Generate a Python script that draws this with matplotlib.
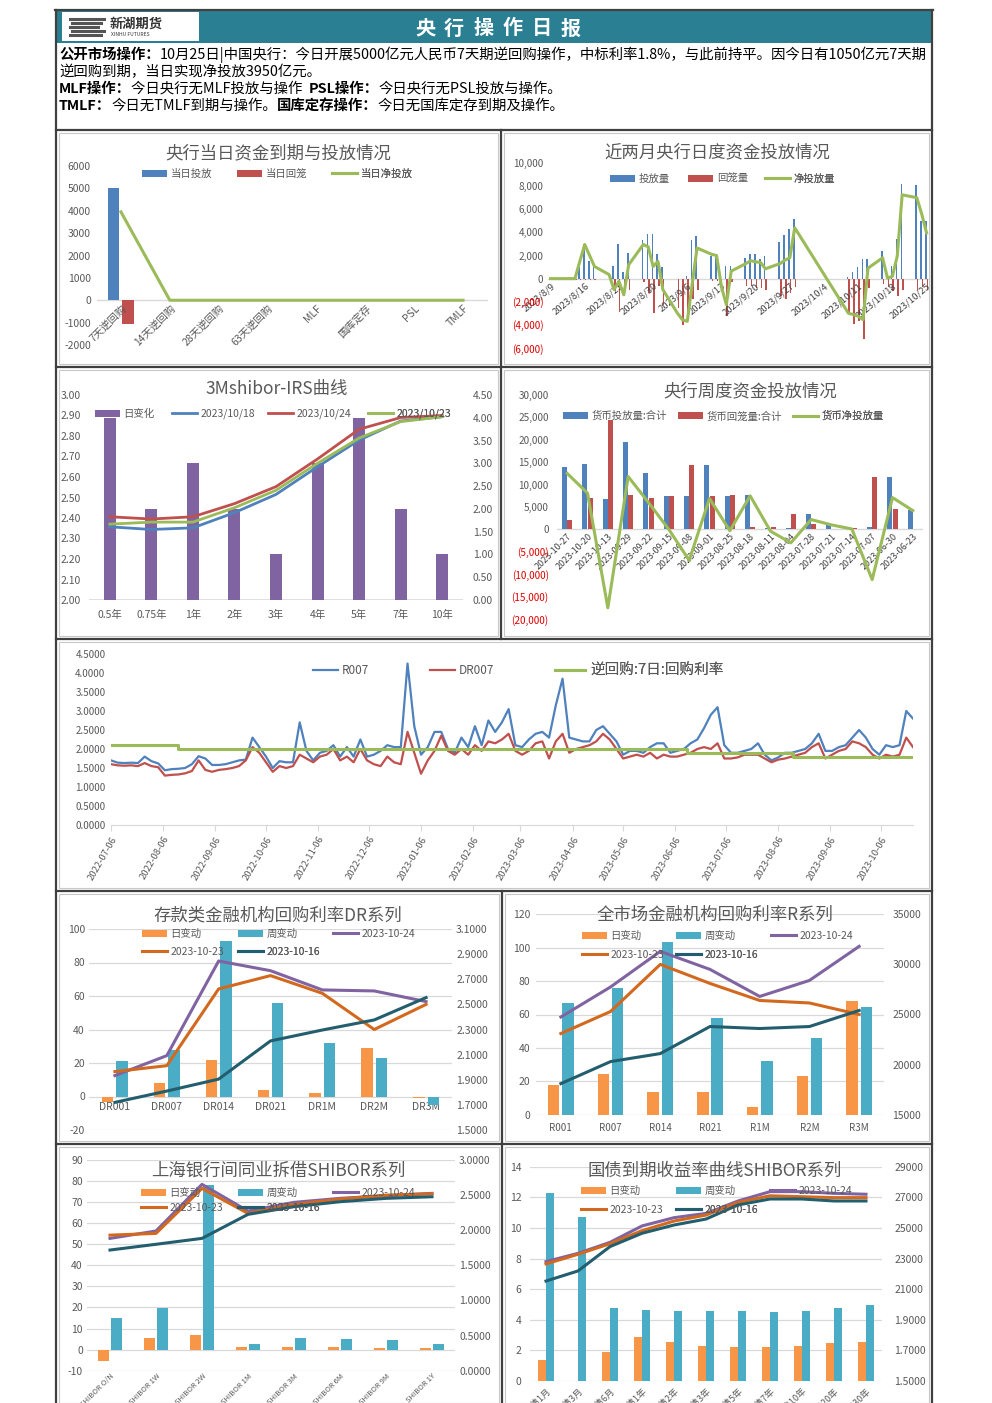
import matplotlib
matplotlib.use('Agg')
import matplotlib.pyplot as plt
import matplotlib.ticker as mticker
import matplotlib.dates as mdates
from matplotlib.patches import Rectangle
from matplotlib.lines import Line2D
import numpy as np
import pandas as pd

plt.rcParams['font.family'] = ['Noto Sans CJK SC', 'DejaVu Sans']
plt.rcParams['axes.unicode_minus'] = False

# ---------------- data ----------------
# chart 1: 央行当日资金到期与投放情况
c1_categories = ['7天逆回购', '14天逆回购', '28天逆回购', '63天逆回购', 'MLF', '国库定存', 'PSL', 'TMLF']
c1_inject = [5000, 0, 0, 0, 0, 0, 0, 0]
c1_recover = [-1050, 0, 0, 0, 0, 0, 0, 0]
c1_net = [3950, 0, 0, 0, 0, 0, 0, 0]

# chart 2: 近两月央行日度资金投放情况
c2_dates = ['2023-08-09', '2023-08-10', '2023-08-11', '2023-08-14', '2023-08-15', '2023-08-16', '2023-08-17',
            '2023-08-18', '2023-08-21', '2023-08-22', '2023-08-23', '2023-08-24', '2023-08-25', '2023-08-28',
            '2023-08-29', '2023-08-30', '2023-08-31', '2023-09-01', '2023-09-04', '2023-09-05', '2023-09-06',
            '2023-09-07', '2023-09-08', '2023-09-11', '2023-09-12', '2023-09-13', '2023-09-14', '2023-09-15',
            '2023-09-18', '2023-09-19', '2023-09-20', '2023-09-21', '2023-09-22', '2023-09-25', '2023-09-26',
            '2023-09-27', '2023-09-28', '2023-10-09', '2023-10-10', '2023-10-11', '2023-10-12', '2023-10-13',
            '2023-10-16', '2023-10-17', '2023-10-18', '2023-10-19', '2023-10-20', '2023-10-23', '2023-10-24',
            '2023-10-25']
c2_inject = [0, 0, 0, 0, 1000, 3000, 1500, 1000, 0, 1100, 3000, 600, 2200, 3300, 3900, 3900, 2100, 1000,
             0, 0, 200, 3300, 3700, 2000, 1900, 0, 1100, 1100, 1800, 2100, 2100, 1700, 2000, 3200, 3800,
             4300, 5200, 100, 600, 1000, 1700, 1700, 2400, 0, 1100, 3400, 8200, 8100, 5000, 5000]
c2_recover = [0, 0, 0, -100, -100, -100, -100, -100, 0, -1000, -2900, -1500, -1000, -300, -1200, -3000, -600,
              -2300, -2500, -4000, -3500, -1800, -1000, -200, -200, 0, -3200, -300, -600, -600, -800, -800,
              -1000, -1500, -1800, -1200, -700, -3000, -3900, -3700, -5200, -800, -500, -700, -1100, -1500,
              -1000, -1000, -700, -1000]
c2_net = [0, 0, 0, 0, 1500, 2950, 2000, 1050, 350, -950, -230, -1400, 1200, 2950, 2750, 1050, 1500, -950,
          -3000, -3550, -3700, -500, 2650, 2100, 2000, -700, -2250, 650, 1300, 1550, 1450, 1400, 850, 1300,
          1600, 1800, 4400, -3000, -3100, -3250, -3550, 900, 1800, 50, 200, 1950, 7250, 7000, 5600, 3950]

# chart 3: 3Mshibor-IRS曲线
irs_tenors = ['0.5年', '0.75年', '1年', '2年', '3年', '4年', '5年', '7年', '10年']
irs_change = [4, 2, 3, 2, 1, 3, 4, 2, 1]
irs_1018 = [2.357, 2.344, 2.352, 2.426, 2.515, 2.650, 2.780, 2.873, 2.894]
irs_1024 = [2.406, 2.395, 2.406, 2.470, 2.553, 2.688, 2.833, 2.890, 2.900]
irs_1023 = [2.370, 2.380, 2.380, 2.450, 2.535, 2.667, 2.790, 2.870, 2.894]

# chart 4: 央行周度资金投放情况
week_labels = ['2023-10-27', '2023-10-20', '2023-10-13', '2023-09-29', '2023-09-22', '2023-09-15', '2023-09-08',
               '2023-09-01', '2023-08-25', '2023-08-18', '2023-08-11', '2023-08-04', '2023-07-28', '2023-07-21',
               '2023-07-14', '2023-07-07', '2023-06-30', '2023-06-23']
week_inject = [13900, 14500, 6800, 19500, 12600, 7400, 7400, 14300, 7400, 7700, 400, 400, 3400, 1000, 300, 500,
               11700, 4400]
week_recover = [2100, 6900, 24400, 7700, 7100, 7400, 14300, 7400, 7700, 600, 500, 3400, 1200, 0, 400, 11700,
                4600, 0]
week_net = [12500, 8100, -17500, 11800, 6000, 0, -6900, 6900, -300, 7500, -400, -3000, 2200, 1000, 100, -11200,
            7100, 4200]

# chart 5: R007 / DR007 / 逆回购7日 (sampled every 4 days from 2022-07-06)
rate_start = '2022-07-06'
R007 = [1.70, 1.64, 1.63, 1.64, 1.63, 1.80, 1.68, 1.62, 1.44, 1.47,
        1.48, 1.50, 1.60, 1.81, 1.75, 1.58, 1.58, 1.60, 1.65, 1.70,
        1.72, 2.30, 2.05, 1.80, 1.50, 1.68, 1.65, 1.65, 2.70, 1.95,
        1.70, 1.90, 1.95, 2.10, 1.80, 2.05, 1.80, 2.25, 1.80, 1.85,
        1.95, 2.10, 2.05, 2.05, 4.25, 2.60, 1.85, 2.05, 2.45, 2.45,
        2.00, 1.90, 2.30, 2.05, 2.60, 2.10, 2.75, 2.45, 2.70, 3.05,
        2.10, 2.05, 2.25, 2.40, 2.45, 2.30, 3.15, 3.85, 2.30, 2.25,
        2.20, 2.20, 2.50, 2.60, 2.40, 2.20, 1.85, 1.95, 1.95, 1.90,
        2.05, 2.15, 2.15, 1.90, 1.95, 2.00, 2.15, 2.25, 2.55, 2.90,
        3.10, 2.10, 1.90, 1.90, 1.95, 2.00, 2.15, 1.85, 1.70, 1.78,
        1.90, 1.90, 1.95, 2.00, 2.15, 2.40, 1.95, 1.95, 2.05, 2.10,
        2.30, 2.50, 2.30, 2.00, 1.85, 2.10, 2.05, 2.10, 3.00, 2.80]
DR007 = [1.60, 1.57, 1.56, 1.57, 1.55, 1.63, 1.55, 1.52, 1.30, 1.32,
         1.33, 1.36, 1.42, 1.70, 1.45, 1.40, 1.45, 1.47, 1.50, 1.55,
         1.70, 2.05, 1.90, 1.65, 1.40, 1.55, 1.50, 1.55, 1.85, 1.75,
         1.65, 1.80, 1.85, 2.00, 1.70, 1.80, 1.65, 2.00, 1.70, 1.60,
         1.55, 1.80, 1.65, 1.60, 2.45, 1.90, 1.35, 1.70, 1.95, 2.35,
         1.95, 1.85, 2.00, 1.85, 2.10, 1.95, 2.20, 2.15, 2.25, 2.40,
         1.95, 1.85, 1.95, 2.15, 2.20, 1.75, 2.20, 2.40, 1.90, 2.00,
         2.05, 2.10, 2.20, 2.40, 2.25, 2.00, 1.75, 1.80, 1.85, 1.80,
         1.90, 1.75, 1.85, 1.80, 1.80, 1.85, 1.90, 2.00, 2.05, 2.00,
         2.15, 1.75, 1.75, 1.78, 1.85, 1.85, 1.85, 1.75, 1.65, 1.72,
         1.75, 1.80, 1.85, 1.90, 2.05, 2.15, 1.75, 1.85, 1.95, 2.00,
         2.20, 2.15, 2.05, 1.85, 1.75, 1.85, 1.80, 1.85, 2.30, 2.05]
rr_dates = ['2022-07-06', '2022-08-15', '2023-06-13', '2023-08-15', '2023-10-25']
rr_rate = [2.10, 2.00, 1.90, 1.80, 1.80]

# chart 6: DR series
dr_names = ['DR001', 'DR007', 'DR014', 'DR021', 'DR1M', 'DR2M', 'DR3M']
dr_day = [-3.5, 8, 22, 4, 2, 29, -1]
dr_week = [21, 28, 93, 56, 32, 23, -5]
dr_1024 = [1.933, 2.092, 2.845, 2.768, 2.615, 2.607, 2.522]
dr_1023 = [1.965, 2.012, 2.623, 2.729, 2.588, 2.300, 2.500]
dr_1016 = [1.720, 1.810, 1.905, 2.209, 2.296, 2.376, 2.554]

# chart 7: R series
r_names = ['R001', 'R007', 'R014', 'R021', 'R1M', 'R2M', 'R3M']
r_day = [17.6, 24.4, 13.6, 13.6, 4.4, 23.0, 67.9]
r_week = [67.0, 75.8, 103.4, 57.9, 31.9, 45.9, 64.3]
r_1024 = [2.475, 2.775, 3.130, 2.950, 2.680, 2.840, 3.180]
r_1023 = [2.310, 2.530, 3.000, 2.810, 2.640, 2.615, 2.500]
r_1016 = [1.810, 2.030, 2.110, 2.380, 2.360, 2.380, 2.540]
r_right_ticks = ['15000', '20000', '25000', '30000', '35000']

# chart 8: SHIBOR
sh_names = ['SHIBOR O/N', 'SHIBOR 1W', 'SHIBOR 2W', 'SHIBOR 1M', 'SHIBOR 3M', 'SHIBOR 6M', 'SHIBOR 9M', 'SHIBOR 1Y']
sh_day = [-5.5, 5.7, 7.1, 1.3, 1.3, 1.3, 0.8, 0.8]
sh_week = [15, 19.8, 78, 2.8, 5.5, 4.9, 4.4, 2.8]
sh_1024 = [1.884, 1.989, 2.653, 2.273, 2.397, 2.454, 2.490, 2.525]
sh_1023 = [1.930, 1.955, 2.596, 2.240, 2.368, 2.444, 2.500, 2.520]
sh_1016 = [1.718, 1.800, 1.884, 2.226, 2.335, 2.406, 2.454, 2.477]

# chart 9: 国债到期收益率
gz_names = ['国债1月', '国债3月', '国债6月', '国债1年', '国债2年', '国债3年', '国债5年', '国债7年', '国债10年', '国债20年', '国债30年']
gz_day = [1.4, 0, 1.9, 2.85, 2.55, 2.3, 2.2, 2.2, 2.3, 2.5, 2.55]
gz_week = [12.3, 10.7, 4.8, 4.65, 4.55, 4.55, 4.55, 4.5, 4.55, 4.8, 4.95]
gz_1024 = [2.280, 2.334, 2.406, 2.513, 2.567, 2.595, 2.676, 2.737, 2.737, 2.726, 2.720]
gz_1023 = [2.265, 2.328, 2.397, 2.482, 2.545, 2.584, 2.667, 2.710, 2.704, 2.698, 2.698]
gz_1016 = [2.153, 2.219, 2.378, 2.465, 2.519, 2.558, 2.650, 2.689, 2.689, 2.676, 2.676]
gz_right_ticks = ['1.5000', '1.7000', '1.9000', '21000', '23000', '25000', '27000', '29000']

# ---------------- style ----------------
BLUE = '#4F81BD'
RED = '#C0504D'
GREEN = '#9BBB59'
PURPLE = '#8064A2'
TEAL = '#4BACC6'
ORANGE = '#F79646'
DORANGE = '#D2691E'
DTEAL = '#235E6E'
GREY = '#595959'
GRID = '#D9D9D9'
HEAD = '#2B7F93'

W, H = 992, 1403
fig = plt.figure(figsize=(W / 100, H / 100), dpi=100)
fig.patch.set_facecolor('white')


def fx(x):
    return x / W


def fy(y):
    return 1 - y / H


def add_ax(x0, y0, x1, y1):
    ax = fig.add_axes([x0 / W, 1 - y1 / H, (x1 - x0) / W, (y1 - y0) / H])
    ax.set_facecolor('none')
    for s in ax.spines.values():
        s.set_visible(False)
    ax.tick_params(axis='both', length=0, labelsize=7.5, colors=GREY)
    return ax


def title(x, y, s, fs=12.5):
    fig.text(fx(x), fy(y), s, ha='center', va='center', fontsize=fs, color=GREY)


def leg(ax, handle, label, x, y, fs=7.5, hl_px=25):
    em = fs * 100 / 72
    lg = ax.legend([handle], [label], loc='center left', bbox_to_anchor=(fx(x), fy(y)),
                   bbox_transform=fig.transFigure, frameon=False, fontsize=fs,
                   handlelength=hl_px / em, handleheight=0.7, handletextpad=0.35,
                   borderpad=0, borderaxespad=0, labelcolor=GREY)
    ax.add_artist(lg)


def paren_fmt(v, pos):
    if v < 0:
        return '({:,.0f})'.format(abs(v))
    return '{:,.0f}'.format(v)


# ---------------- frames / header ----------------
def fline(x0, y0, x1, y1, color='#404040', lw=1.6):
    fig.add_artist(Line2D([fx(x0), fx(x1)], [fy(y0), fy(y1)], transform=fig.transFigure, color=color, lw=lw))


def frect(x0, y0, x1, y1, ec='#C8C8C8', fc='none', lw=0.8):
    fig.add_artist(Rectangle((fx(x0), fy(y1)), (x1 - x0) / W, (y1 - y0) / H, transform=fig.transFigure,
                             ec=ec, fc=fc, lw=lw))


frect(57, 11, 931, 43, ec='none', fc=HEAD)
frect(62, 12, 199, 41, ec='none', fc='white')
for i, yy in enumerate([19, 23, 27, 31, 35]):
    fline(70 + (i % 2) * 2, yy, 104 - (i % 3) * 3, yy, color='#555555', lw=2.2)
fig.text(fx(110), fy(24), '新湖期货', fontsize=9.5, fontweight='bold', color='#333333', va='center', ha='left')
fig.text(fx(111), fy(34.5), 'XINHU FUTURES', fontsize=3.6, color='#333333', va='center', ha='left')
for i, ch in enumerate('央行操作日报'):
    fig.text(fx(425 + 29.2 * i), fy(28), ch, fontsize=14.5, fontweight='bold', color='white', ha='center', va='center')

renderer = fig.canvas.get_renderer()


def rich_line(x, y, parts, fs):
    cur = x
    for txt, bold in parts:
        t = fig.text(fx(cur), fy(y), txt, fontsize=fs, fontweight='bold' if bold else 'normal',
                     va='center', ha='left', color='black')
        cur += t.get_window_extent(renderer=renderer).width
    return cur


line1 = [('公开市场操作：', True),
         ('10月25日|中国央行：今日开展5000亿元人民币7天期逆回购操作，中标利率1.8%，与此前持平。因今日有1050亿元7天期', False)]
line2 = [('逆回购到期，当日实现净投放3950亿元。', False)]
line3 = [('MLF操作：', True), ('今日央行无MLF投放与操作  ', False), ('PSL操作：', True), ('今日央行无PSL投放与操作。', False)]
line4 = [('TMLF：', True), ('今日无TMLF到期与操作。', False), ('国库定存操作：', True), ('今日无国库定存到期及操作。', False)]

probe = [fig.text(0, 0, t, fontsize=10, fontweight='bold' if b else 'normal') for t, b in line1]
wsum = sum(p.get_window_extent(renderer=renderer).width for p in probe)
for p in probe:
    p.remove()
fs_hdr = 10 * 870 / wsum
rich_line(59, 55, line1, fs_hdr)
rich_line(59, 72, line2, fs_hdr)
rich_line(59, 89, line3, fs_hdr)
rich_line(59, 106, line4, fs_hdr)

fline(55, 10, 933, 10)
fline(56, 10, 56, 1403)
fline(932, 10, 932, 1403)
for yy in [130, 367, 639, 891, 1144]:
    fline(56, yy, 932, yy)
fline(501, 130, 501, 639)
fline(502, 891, 502, 1403)
for (a, b, c, d) in [(59, 133, 498, 364), (504, 133, 929, 364), (59, 370, 498, 636), (504, 370, 929, 636),
                     (59, 642, 929, 888), (59, 894, 499, 1141), (505, 894, 929, 1141), (59, 1147, 499, 1403),
                     (505, 1147, 929, 1403)]:
    frect(a, b, c, d)

# ---------------- chart 1 ----------------
ax1 = add_ax(96.5, 166, 487.5, 345)
x1 = np.arange(len(c1_categories))
b1a = ax1.bar(x1 - 0.145, c1_inject, width=0.23, color=BLUE)
b1b = ax1.bar(x1 + 0.145, c1_recover, width=0.23, color=RED)
l1, = ax1.plot(x1, c1_net, color=GREEN, lw=2.2)
ax1.set_xlim(-0.5, len(c1_categories) - 0.5)
ax1.set_ylim(-2000, 6000)
ax1.set_yticks(np.arange(-2000, 6001, 1000))
ax1.axhline(0, color=GRID, lw=1, zorder=0)
ax1.spines['bottom'].set_position(('data', 0))
ax1.set_xticks(x1)
ax1.set_xticklabels(c1_categories, rotation=45, ha='right', rotation_mode='anchor', fontsize=7.5)
ax1.tick_params(axis='x', pad=2)
ax1.tick_params(axis='y', pad=4)
title(278, 153, '央行当日资金到期与投放情况')
leg(ax1, b1a, '当日投放', 142, 174)
leg(ax1, b1b, '当日回笼', 237, 174)
leg(ax1, l1, '当日净投放', 332, 174)

# ---------------- chart 2 ----------------
d2 = mdates.date2num(pd.to_datetime(c2_dates))
ax2 = add_ax(547.6, 163, 929.5, 348)
b2a = ax2.bar(d2 - 0.16, c2_inject, width=0.32, color=BLUE)
b2b = ax2.bar(d2 + 0.16, c2_recover, width=0.32, color=RED)
l2, = ax2.plot(d2, c2_net, color=GREEN, lw=2.2)
ax2.set_xlim(d2[0] - 0.6, d2[-1] + 0.6)
ax2.set_ylim(-6000, 10000)
ax2.set_yticks(np.arange(-6000, 10001, 2000))
ax2.yaxis.set_major_formatter(mticker.FuncFormatter(paren_fmt))
ax2.axhline(0, color=GRID, lw=1, zorder=0)
ax2.spines['bottom'].set_position(('data', 0))
t2 = pd.date_range(c2_dates[0], c2_dates[-1], freq='7D')
ax2.set_xticks(mdates.date2num(t2))
ax2.set_xticklabels(['{}/{}/{}'.format(d.year, d.month, d.day) for d in t2], rotation=40, ha='right',
                    rotation_mode='anchor', fontsize=6.8, color='#404040')
ax2.tick_params(axis='x', pad=2)
ax2.tick_params(axis='y', pad=3, labelsize=7.2)
for lbl, v in zip(ax2.get_yticklabels(), np.arange(-6000, 10001, 2000)):
    if v < 0:
        lbl.set_color('#E00000')
title(717, 152, '近两月央行日度资金投放情况')
leg(ax2, b2a, '投放量', 610, 179)
leg(ax2, b2b, '回笼量', 688, 179)
leg(ax2, l2, '净投放量', 765, 179)

# ---------------- chart 3 ----------------
ax3 = add_ax(89, 395, 463, 600)
x3 = np.arange(len(irs_tenors))
b3 = ax3.bar(x3, irs_change, width=0.29, color=PURPLE)
ax3.set_xlim(-0.5, len(irs_tenors) - 0.5)
ax3.set_ylim(0, 4.5)
ax3.set_yticks(np.arange(0, 4.51, 0.5))
ax3.yaxis.set_major_formatter(mticker.FormatStrFormatter('%.2f'))
ax3.axhline(0, color=GRID, lw=1.2, zorder=0)
ax3.set_xticks(x3)
ax3.set_xticklabels(irs_tenors, fontsize=7.5)
ax3.tick_params(axis='x', pad=7)
ax3b = ax3.twinx()
ax3b.set_facecolor('none')
for s in ax3b.spines.values():
    s.set_visible(False)
l3a, = ax3b.plot(x3, irs_1018, color=BLUE, lw=2)
l3b, = ax3b.plot(x3, irs_1024, color=RED, lw=2)
l3c, = ax3b.plot(x3, irs_1023, color=GREEN, lw=2)
ax3b.set_ylim(2.0, 3.0)
ax3b.set_yticks(np.arange(2.0, 3.001, 0.1))
ax3b.yaxis.set_major_formatter(mticker.FormatStrFormatter('%.2f'))
ax3b.yaxis.tick_left()
ax3b.tick_params(axis='y', which='both', left=True, labelleft=True, right=False, labelright=False,
                 length=0, pad=6, labelsize=7.5, colors=GREY)
ax3.yaxis.tick_right()
ax3.tick_params(axis='y', which='both', left=False, labelleft=False, right=True, labelright=True,
                length=0, pad=7, labelsize=7.5, colors=GREY)
title(277, 389, '3Mshibor-IRS曲线')
leg(ax3b, b3, '日变化', 95, 414)
leg(ax3b, l3a, '2023/10/18', 172, 414)
leg(ax3b, l3b, '2023/10/24', 268, 414)
leg(ax3b, l3c, '2023/10/23', 368, 414)

# ---------------- chart 4 ----------------
ax4 = add_ax(557, 395, 923, 619)
x4 = np.arange(len(week_labels))
b4a = ax4.bar(x4 - 0.13, week_inject, width=0.24, color=BLUE)
b4b = ax4.bar(x4 + 0.13, week_recover, width=0.24, color=RED)
l4, = ax4.plot(x4, week_net, color=GREEN, lw=2.2)
ax4.set_xlim(-0.5, len(week_labels) - 0.5)
ax4.set_ylim(-20000, 30000)
ax4.set_yticks(np.arange(-20000, 30001, 5000))
ax4.yaxis.set_major_formatter(mticker.FuncFormatter(paren_fmt))
ax4.axhline(0, color=GRID, lw=1, zorder=0)
ax4.spines['bottom'].set_position(('data', 0))
ax4.set_xticks(x4)
ax4.set_xticklabels(week_labels, rotation=45, ha='right', rotation_mode='anchor', fontsize=6.5, color='#404040')
ax4.tick_params(axis='x', pad=2)
ax4.tick_params(axis='y', pad=6, labelsize=7.2)
for lbl, v in zip(ax4.get_yticklabels(), np.arange(-20000, 30001, 5000)):
    if v < 0:
        lbl.set_color('#E00000')
title(750, 391, '央行周度资金投放情况')
leg(ax4, b4a, '货币投放量:合计', 563, 416)
leg(ax4, b4b, '货币回笼量:合计', 678, 416)
leg(ax4, l4, '货币净投放量', 793, 416)

# ---------------- chart 5 ----------------
ax5 = add_ax(111, 654, 913, 825)
d5 = pd.date_range(rate_start, periods=len(R007), freq='4D')
l5a, = ax5.plot(d5, R007, color=BLUE, lw=1.6)
l5b, = ax5.plot(d5, DR007, color=RED, lw=1.6)
l5c, = ax5.plot(pd.to_datetime(rr_dates), rr_rate, color=GREEN, lw=2.2, drawstyle='steps-post')
ax5.set_xlim(pd.Timestamp(rate_start), d5[-1])
ax5.set_ylim(0, 4.5)
ax5.set_yticks(np.arange(0, 4.51, 0.5))
ax5.yaxis.set_major_formatter(mticker.FormatStrFormatter('%.4f'))
ax5.spines['bottom'].set_visible(True)
ax5.spines['bottom'].set_color(GRID)
t5 = [pd.Timestamp(rate_start) + pd.DateOffset(months=i) for i in range(16)]
ax5.set_xticks(t5)
ax5.set_xticklabels([d.strftime('%Y-%m-%d') for d in t5], rotation=60, ha='right', rotation_mode='anchor',
                    fontsize=6.8)
ax5.tick_params(axis='x', length=4, color=GRID, pad=3)
ax5.tick_params(axis='y', pad=4, labelsize=7)
leg(ax5, l5a, 'R007', 313, 671, fs=8.5)
leg(ax5, l5b, 'DR007', 430, 671, fs=8.5)
leg(ax5, l5c, '逆回购:7日:回购利率', 555, 671, fs=10.5, hl_px=30)


# ---------------- charts 6-9 (bars left, lines right) ----------------
def combo(box, names, day, week, s24, s23, s16, lylim, lyticks, rylim, ryticks, rlabels, wbar, off,
          xlab_kw, lpad, rpad):
    ax = add_ax(*box)
    x = np.arange(len(names))
    bd = ax.bar(x - off, day, width=wbar, color=ORANGE)
    bw = ax.bar(x + off, week, width=wbar, color=TEAL)
    ax.set_xlim(-0.5, len(names) - 0.5)
    ax.set_ylim(*lylim)
    ax.set_yticks(lyticks)
    ax.yaxis.grid(True, color=GRID, lw=0.9)
    ax.set_axisbelow(True)
    ax.set_xticks(x)
    ax.set_xticklabels(names, **xlab_kw)
    ax.tick_params(axis='y', pad=lpad)
    axr = ax.twinx()
    axr.set_facecolor('none')
    for s in axr.spines.values():
        s.set_visible(False)
    la, = axr.plot(x, s24, color=PURPLE, lw=2.2)
    lb, = axr.plot(x, s23, color=DORANGE, lw=2.2)
    lc, = axr.plot(x, s16, color=DTEAL, lw=2.2)
    axr.set_ylim(*rylim)
    axr.set_yticks(ryticks)
    if rlabels is None:
        axr.yaxis.set_major_formatter(mticker.FormatStrFormatter('%.4f'))
    else:
        axr.set_yticklabels(rlabels)
    axr.tick_params(axis='y', length=0, pad=rpad, labelsize=7.5, colors=GREY)
    return ax, axr, bd, bw, la, lb, lc


ax6, ax6r, bd6, bw6, la6, lb6, lc6 = combo(
    (89, 929, 452, 1130), dr_names, dr_day, dr_week, dr_1024, dr_1023, dr_1016,
    (-20, 100), np.arange(-20, 101, 20), (1.5, 3.1), np.arange(1.5, 3.11, 0.2), None, 0.22, 0.14,
    dict(fontsize=7), 3, 3)
ax6.spines['bottom'].set_position(('data', 0))
ax6.tick_params(axis='x', pad=4)
title(278, 916, '存款类金融机构回购利率DR系列')
leg(ax6r, bd6, '日变动', 142, 934)
leg(ax6r, bw6, '周变动', 238, 934)
leg(ax6r, la6, '2023-10-24', 333, 934)
leg(ax6r, lb6, '2023-10-23', 142, 952)
leg(ax6r, lc6, '2023-10-16', 238, 952)

ax7, ax7r, bd7, bw7, la7, lb7, lc7 = combo(
    (536, 914.3, 884, 1114.7), r_names, r_day, r_week, r_1024, r_1023, r_1016,
    (0, 120), np.arange(0, 121, 20), (1.5, 3.5), np.arange(1.5, 3.51, 0.5), r_right_ticks, 0.23, 0.145,
    dict(fontsize=7), 4, 6)
ax7.tick_params(axis='x', pad=6)
title(715, 915, '全市场金融机构回购利率R系列')
leg(ax7r, bd7, '日变动', 582, 936)
leg(ax7r, bw7, '周变动', 676, 936)
leg(ax7r, la7, '2023-10-24', 771, 936)
leg(ax7r, lb7, '2023-10-23', 582, 955)
leg(ax7r, lc7, '2023-10-16', 676, 955)

ax8, ax8r, bd8, bw8, la8, lb8, lc8 = combo(
    (87, 1160, 455, 1370.7), sh_names, sh_day, sh_week, sh_1024, sh_1023, sh_1016,
    (-10, 90), np.arange(-10, 91, 10), (0, 3.0), np.arange(0, 3.01, 0.5), None, 0.24, 0.14,
    dict(fontsize=5.5, rotation=45, ha='right', rotation_mode='anchor'), 3, 3)
ax8.tick_params(axis='x', pad=1)
title(278, 1171, '上海银行间同业拆借SHIBOR系列')
leg(ax8r, bd8, '日变动', 141, 1193)
leg(ax8r, bw8, '周变动', 238, 1193)
leg(ax8r, la8, '2023-10-24', 333, 1193)
leg(ax8r, lb8, '2023-10-23', 141, 1208)
leg(ax8r, lc8, '2023-10-16', 238, 1208)

ax9, ax9r, bd9, bw9, la9, lb9, lc9 = combo(
    (530, 1166.7, 882, 1381), gz_names, gz_day, gz_week, gz_1024, gz_1023, gz_1016,
    (0, 14), np.arange(0, 15, 2), (1.5, 2.9), np.arange(1.5, 2.91, 0.2), gz_right_ticks, 0.25, 0.14,
    dict(fontsize=6.5, rotation=45, ha='right', rotation_mode='anchor'), 6, 9)
ax9.tick_params(axis='x', pad=4)
title(715, 1171, '国债到期收益率曲线SHIBOR系列')
leg(ax9r, bd9, '日变动', 581, 1191)
leg(ax9r, bw9, '周变动', 676, 1191)
leg(ax9r, la9, '2023-10-24', 770, 1191)
leg(ax9r, lb9, '2023-10-23', 581, 1210)
leg(ax9r, lc9, '2023-10-16', 676, 1210)

fig.savefig('out.png', dpi=100)
